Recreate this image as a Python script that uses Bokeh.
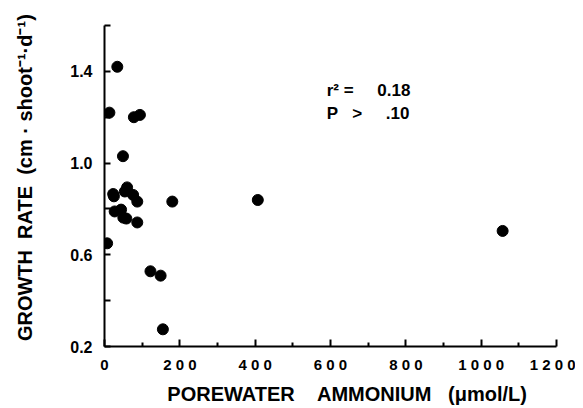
from bokeh.plotting import figure
from bokeh.models import FixedTicker, Label, Range1d, CustomJSTickFormatter
from bokeh.embed import file_html
from bokeh.resources import INLINE

# Data
ammonium = [34, 13, 78, 94, 49, 23, 25, 60, 54, 76, 87, 180, 407, 27, 44, 58, 50, 87, 7, 122, 149, 155, 1057]
growth = [1.42, 1.22, 1.20, 1.21, 1.03, 0.865, 0.855, 0.894, 0.876, 0.861, 0.832, 0.832, 0.839,
          0.789, 0.797, 0.758, 0.762, 0.741, 0.65, 0.528, 0.509, 0.275, 0.704]

x_ticks = [0, 200, 400, 600, 800, 1000, 1200]
x_minor = [100, 300, 500, 700, 900, 1100]
x_tick_labels = ["0", "200", "400", "600", "800", "1000", "1200"]
y_ticks = [0.2, 0.4, 0.6, 0.8, 1.0, 1.2, 1.4, 1.6]
y_tick_labels = ["0.2", "", "0.6", "", "1.0", "", "1.4", ""]
stats_text = ["r\u00b2 =\u00a0\u00a0\u00a0\u00a0\u00a00.18", "P\u00a0\u00a0\u00a0>\u00a0\u00a0\u00a0\u00a0\u00a0.10"]
stats_x = [590, 590]
stats_y = [1.316, 1.215]

FONT = "Liberation Sans"
NB = "\u00a0"

p = figure(width=575, height=407, output_backend="svg", toolbar_location=None,
           x_range=Range1d(0, 1200), y_range=Range1d(0.2, 1.6),
           min_border_left=104, min_border_right=19, min_border_top=25, min_border_bottom=55)
p.outline_line_color = None
p.grid.visible = False
p.background_fill_color = "white"

p.scatter(ammonium, growth, size=11, color="black")

xa = p.xaxis[0]
xa.ticker = FixedTicker(ticks=x_ticks, minor_ticks=x_minor)
xa.formatter = CustomJSTickFormatter(
    args=dict(tvals=x_ticks, tlabs=x_tick_labels),
    code="""
    const i = tvals.indexOf(tick);
    const s = i >= 0 ? tlabs[i] : String(tick);
    return s.split('').join('\\u00a0');
    """)
xa.axis_label = NB * 6 + "POREWATER" + NB * 4 + "AMMONIUM" + NB * 3 + "(\u03bcmol/L)"

ya = p.yaxis[0]
ya.ticker = FixedTicker(ticks=y_ticks, minor_ticks=[])
ya.major_label_overrides = {t: s for t, s in zip(y_ticks, y_tick_labels)}
ya.axis_label = NB * 3 + "GROWTH" + NB * 2 + "RATE" + NB * 2 + "(cm \u00b7 shoot\u207b\u00b9\u00b7d\u207b\u00b9)"

for ax in (xa, ya):
    ax.axis_line_width = 2
    ax.axis_line_color = "black"
    ax.major_tick_line_width = 2
    ax.minor_tick_line_width = 2
    ax.major_tick_line_color = "black"
    ax.minor_tick_line_color = "black"
    ax.major_tick_out = 0
    ax.minor_tick_out = 0
    ax.major_label_text_font = FONT
    ax.major_label_text_font_style = "bold"
    ax.major_label_text_color = "black"
    ax.axis_label_text_font = FONT
    ax.axis_label_text_font_style = "bold"
    ax.axis_label_text_color = "black"

xa.major_tick_in = 7
xa.minor_tick_in = 4
xa.major_label_text_font_size = "15px"
xa.major_label_standoff = 9
xa.axis_label_text_font_size = "20px"
xa.axis_label_standoff = 7

ya.major_tick_in = 6
ya.major_label_text_font_size = "16px"
ya.major_label_standoff = 12
ya.axis_label_text_font_size = "20px"
ya.axis_label_standoff = 31

for t, xv, yv in zip(stats_text, stats_x, stats_y):
    p.add_layout(Label(x=xv, y=yv, text=t, text_font=FONT, text_font_size="17px",
                       text_font_style="bold", text_color="black", text_baseline="middle"))

open("out.html", "w").write(file_html(p, INLINE))
